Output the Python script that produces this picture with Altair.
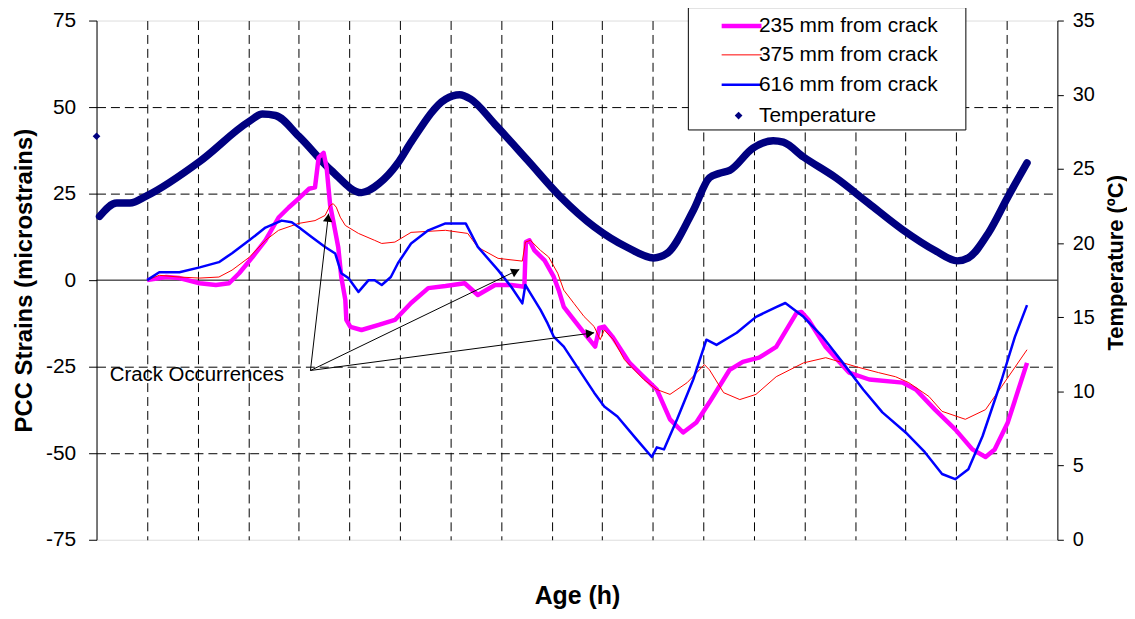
import math
import altair as alt
import pandas as pd

# ---------------- data ----------------
SERIES = ["235 mm from crack", "375 mm from crack", "616 mm from crack", "Temperature"]
COLORS = ["#FF00FF", "#FF0000", "#0000FF", "#000080"]
WIDTHS = [4.5, 1.0, 2.5]

age_235 = [5.0, 6.9, 8.2, 10.2, 11.8, 13.1, 14.1, 15.4, 16.7, 18.0, 19.0, 20.0, 21.0, 21.6, 21.96,
           22.45, 22.75, 23.1, 23.4, 23.9, 24.2, 24.6, 24.7, 25.1, 26.2, 27.9, 29.5, 31.1, 32.8, 34.5,
           36.4, 37.7, 39.4, 41.0, 42.3, 42.45, 42.8, 43.3, 44.3, 45.2, 45.7, 46.2, 47.2, 48.5, 49.3,
           49.7, 50.2, 51.0, 52.7, 54.1, 55.4, 56.7, 58.0, 59.3, 60.6, 62.6, 63.9, 65.5, 67.2, 69.2,
           69.7, 70.4, 72.1, 74.4, 76.4, 79.7, 81.0, 82.9, 84.9, 86.6, 87.9, 88.8, 90.1, 92.0]
strain_235 = [0.0, 0.9, 0.6, -0.9, -1.4, -0.9, 2.0, 6.6, 11.5, 18.1, 21.0, 23.6, 26.4, 26.8, 35.4,
              36.8, 32.5, 21.6, 17.2, 9.5, 0.9, -5.7, -11.5, -13.5, -14.4, -12.9, -11.5, -6.6, -2.3, -1.7,
              -0.9, -4.3, -1.4, -1.4, -1.9, 11.0, 11.5, 8.6, 5.7, 1.0, -2.9, -7.7, -11.5, -16.3, -19.2,
              -13.8, -13.4, -16.3, -23.9, -27.9, -31.6, -40.2, -44.0, -41.1, -35.3, -25.9, -23.6, -22.4, -19.3, -9.5,
              -9.2, -11.5, -19.3, -26.7, -28.7, -29.6, -31.6, -37.4, -43.1, -48.9, -51.1, -48.9, -41.1, -23.9]

age_375 = [5.0, 6.2, 8.2, 10.2, 12.1, 13.4, 15.1, 16.7, 18.0, 20.0, 21.6, 22.6, 23.1, 23.4, 23.7,
           24.1, 24.6, 25.9, 27.5, 28.2, 29.5, 31.1, 34.5, 36.7, 37.7, 39.7, 42.1, 42.4, 42.9, 43.9,
           44.7, 45.6, 46.2, 47.2, 48.2, 49.2, 49.8, 50.2, 51.1, 52.2, 54.1, 55.4, 56.7, 58.4, 60.1,
           60.6, 62.0, 63.6, 65.2, 67.2, 69.9, 72.1, 75.1, 77.3, 79.0, 80.3, 82.3, 83.6, 85.9, 87.9,
           89.5, 92.0]
strain_375 = [0.0, 1.4, 0.9, 0.6, 0.9, 2.9, 6.6, 11.5, 14.4, 16.4, 17.2, 18.7, 21.6, 22.1, 21.1,
              18.2, 15.8, 13.5, 11.5, 10.6, 11.0, 13.8, 14.4, 13.5, 9.5, 6.3, 5.5, 11.0, 11.5, 8.6,
              6.7, 2.0, -2.9, -6.7, -10.5, -13.4, -17.2, -14.4, -17.2, -23.0, -28.7, -31.6, -33.0, -29.6, -24.4,
              -25.9, -32.5, -34.5, -33.0, -27.9, -23.9, -22.4, -25.0, -26.7, -27.9, -29.6, -33.6, -37.9, -40.2, -37.4,
              -30.7, -20.1]

age_616 = [5.0, 6.2, 8.2, 10.2, 12.1, 13.4, 15.1, 16.7, 18.3, 19.3, 20.0, 21.3, 22.6, 23.6, 24.2,
           24.9, 25.9, 26.9, 27.5, 28.2, 29.1, 29.8, 31.1, 32.8, 34.5, 36.5, 37.7, 39.7, 41.0, 42.1,
           42.4, 42.9, 43.9, 44.6, 45.2, 46.2, 47.5, 49.2, 50.2, 51.5, 53.4, 54.9, 55.4, 56.1, 57.4,
           59.0, 60.3, 61.3, 63.3, 65.2, 67.2, 68.1, 69.9, 71.8, 73.8, 75.8, 77.7, 80.0, 81.9, 83.6,
           84.9, 86.2, 87.6, 89.5, 90.8, 92.0]
strain_616 = [0.0, 2.3, 2.3, 3.7, 5.2, 7.8, 11.5, 15.2, 17.2, 16.7, 15.3, 12.4, 9.6, 7.7, 2.0,
              0.6, -3.4, 0.0, 0.0, -1.4, 0.9, 4.9, 10.6, 14.4, 16.4, 16.4, 9.6, 2.9, -1.9, -6.7,
              -1.4, -3.8, -8.6, -12.5, -16.3, -19.2, -25.0, -32.5, -36.5, -39.4, -46.0, -51.1, -48.3, -48.9, -40.2,
              -28.7, -17.2, -18.7, -15.2, -10.6, -7.8, -6.6, -10.6, -16.4, -23.9, -31.6, -38.2, -44.0, -49.7, -56.0,
              -57.5, -54.6, -45.1, -28.7, -16.4, -7.2]

age_temp = [0.3, 2.0, 3.3, 5.0, 10.2, 15.1, 16.4, 17.7, 20.0, 23.2, 26.2, 27.9, 29.8, 31.1, 34.5,
            35.9, 37.0, 39.4, 42.6, 45.9, 49.2, 52.5, 55.1, 56.4, 59.0, 60.6, 61.6, 62.6, 64.9, 66.9,
            67.9, 69.9, 73.1, 76.3, 79.7, 82.9, 85.1, 86.2, 88.2, 90.1, 92.0]
temp_c = [21.8, 22.7, 22.7, 23.2, 25.5, 28.2, 28.7, 28.6, 27.2, 24.9, 23.4, 24.0, 25.4, 26.8, 29.7,
          30.0, 29.7, 28.0, 25.6, 23.1, 21.1, 19.7, 19.0, 19.3, 22.2, 24.4, 24.7, 24.9, 26.4, 26.9,
          26.8, 25.8, 24.4, 22.7, 20.9, 19.5, 18.8, 19.0, 20.7, 23.1, 25.4]
# isolated first temperature reading
age_temp_first = [0.0]
temp_first = [27.2]

strain_ticks = [-75, -50, -25, 0, 25, 50, 75]
temp_ticks = [0, 5, 10, 15, 20, 25, 30, 35]
age_grid = list(range(5, 95, 5))

crack_label = "Crack Occurrences"
crack_label_age = 1.3
crack_label_strain = -29.2
arrow_origin_age = 21.15
arrow_origin_strain = -26.1
arrow_tip_age = [22.94, 41.8, 49.2]
arrow_tip_strain = [19.2, 3.1, -15.2]

# ---------------- layout constants ----------------
PLOT_W, PLOT_H = 966, 522
X_MAX = 95
FONT = "Liberation Sans"
DASH = [9, 5]
NAVY = "#000080"

strain_frames = [pd.DataFrame({"age": a, "strain": s, "series": n})
                 for a, s, n in zip([age_235, age_375, age_616], [strain_235, strain_375, strain_616], SERIES[:3])]
temp_df = pd.DataFrame({"age": age_temp, "temp": temp_c})
temp_first_df = pd.DataFrame({"age": age_temp_first, "temp": temp_first, "series": SERIES[3]})

# arrows
px_h = PLOT_W / X_MAX
px_s = PLOT_H / 150.0
arrow_rows = []
for th, ts in zip(arrow_tip_age, arrow_tip_strain):
    dx = (th - arrow_origin_age) * px_h
    dy = (ts - arrow_origin_strain) * px_s
    L = math.hypot(dx, dy)
    ang = math.degrees(math.atan2(dx, dy)) % 360
    back = 4.1
    arrow_rows.append({
        "age": arrow_origin_age, "strain": arrow_origin_strain,
        "age2": th, "strain2": ts,
        "hage": th - dx / L * back / px_h, "hstrain": ts - dy / L * back / px_s,
        "ang": ang,
    })
arrow_df = pd.DataFrame(arrow_rows)
label_df = pd.DataFrame({"age": [crack_label_age], "strain": [crack_label_strain], "text": [crack_label]})
zero_df = pd.DataFrame({"strain": [0]})
frame_df = pd.DataFrame({"k": [0]})

x_scale = alt.Scale(domain=[0, X_MAX], nice=False, zero=False)
x_axis = alt.Axis(values=age_grid, grid=True, gridColor="black", gridDash=DASH, gridWidth=1,
                  labels=False, ticks=False, domain=False, title="Age (h)", titleFont=FONT,
                  titleFontSize=25, titleFontWeight="bold", titleColor="black",
                  titleX=PLOT_W / 2, titleY=64, titleBaseline="alphabetic", titleAlign="center")
x_enc = alt.X("age:Q", scale=x_scale, axis=x_axis)

s_scale = alt.Scale(domain=[-75, 75], nice=False, zero=False)
y_left_axis = alt.Axis(orient="left", values=strain_ticks, grid=True, gridColor="black", gridDash=DASH,
                       gridWidth=1,
                       gridOpacity={"condition": {"test": "abs(datum.value) >= 75 || datum.value == 0", "value": 0},
                                    "value": 1},
                       labelExpr="'' + datum.value",
                       tickSize=8, tickColor="black", domainColor="black", labelFont=FONT, labelFontSize=21,
                       labelColor="black", labelPadding=13, title="PCC Strains (microstrains)", titleFont=FONT,
                       titleFontSize=24, titleFontWeight="bold", titleColor="black", titleAngle=270,
                       titleX=-65, titleY=PLOT_H / 2, titleBaseline="alphabetic", titleAlign="center")
y_left = alt.Y("strain:Q", scale=s_scale, axis=y_left_axis)

y_right_axis = alt.Axis(orient="right", values=temp_ticks, grid=False, tickSize=6, tickColor="black",
                        domainColor="black", labelFont=FONT, labelFontSize=20, labelColor="black",
                        labelPadding=9, title="Temperature (ºC)", titleFont=FONT, titleFontSize=22,
                        titleFontWeight="bold", titleColor="black", titleAngle=270, titleX=65, titleY=243,
                        titleBaseline="alphabetic", titleAlign="center")
y_right = alt.Y("temp:Q", scale=alt.Scale(domain=[0, 35], nice=False, zero=False), axis=y_right_axis)

LINE_PATH = "M-1.43,0L1.43,0"
legend_lines = alt.Legend(title=None, orient="none", legendX=630, legendY=-11, padding=0, symbolSize=784,
                          symbolType=LINE_PATH, symbolOffset=2, labelFont=FONT, labelFontSize=21,
                          labelColor="black", labelOffset=1, labelLimit=400, rowPadding=4, zindex=1)
legend_temp = alt.Legend(title=None, orient="none", legendX=630, legendY=85, padding=0, symbolSize=60,
                         symbolType="diamond", symbolFillColor=NAVY, symbolStrokeWidth=0, symbolOffset=5,
                         labelFont=FONT, labelFontSize=21, labelColor="black", labelOffset=10,
                         labelLimit=400, zindex=1)

color = alt.Color("series:N", scale=alt.Scale(domain=SERIES[:3], range=COLORS[:3]), legend=legend_lines)
swidth = alt.StrokeWidth("series:N", scale=alt.Scale(type="ordinal", domain=SERIES[:3], range=WIDTHS),
                         legend=legend_lines)

temp_line = alt.Chart(temp_df).mark_line(strokeWidth=7.5, color=NAVY, strokeJoin="round", strokeCap="round",
                                         interpolate="monotone").encode(x=x_enc, y=y_right)
temp_pt = alt.Chart(temp_first_df).mark_point(filled=True, size=60, color=NAVY, opacity=1).encode(
    x=x_enc, y=y_right,
    shape=alt.Shape("series:N", scale=alt.Scale(domain=[SERIES[3]], range=["diamond"]), legend=legend_temp))
right = alt.layer(temp_line, temp_pt)

zero = alt.Chart(zero_df).mark_rule(color="black", strokeWidth=1).encode(y=y_left)
lines = [alt.Chart(df).mark_line(strokeJoin="round").encode(x=x_enc, y=y_left, color=color, strokeWidth=swidth)
         for df in strain_frames]
arrows = alt.Chart(arrow_df).mark_rule(color="black", strokeWidth=1).encode(
    x=x_enc, y=y_left, x2="age2:Q", y2="strain2:Q")
heads = alt.Chart(arrow_df).mark_point(shape="triangle-up", filled=True, size=90, color="black",
                                       opacity=1).encode(
    x=alt.X("hage:Q", scale=x_scale, axis=x_axis),
    y=alt.Y("hstrain:Q", scale=s_scale, axis=y_left_axis),
    angle=alt.Angle("ang:Q", scale=None))
label = alt.Chart(label_df).mark_text(align="left", baseline="alphabetic", font=FONT, fontSize=20.5,
                                      color="black").encode(x=x_enc, y=y_left, text="text:N")
frame = alt.Chart(frame_df).mark_rect(fill="white", stroke="black", strokeWidth=1).encode(
    x=alt.value(595), x2=alt.value(874), y=alt.value(-13), y2=alt.value(110))
left = alt.layer(zero, *lines, arrows, heads, label, frame)

chart = alt.layer(right, left).resolve_scale(y="independent").properties(
    width=PLOT_W, height=PLOT_H,
    autosize=alt.AutoSizeParams(type="none"),
    padding={"left": 89, "top": 11, "right": 70, "bottom": 69},
).configure_view(stroke="#808080", strokeWidth=1).configure(font=FONT)

chart.save("out.html", embed_options={"renderer": "svg", "actions": False})
